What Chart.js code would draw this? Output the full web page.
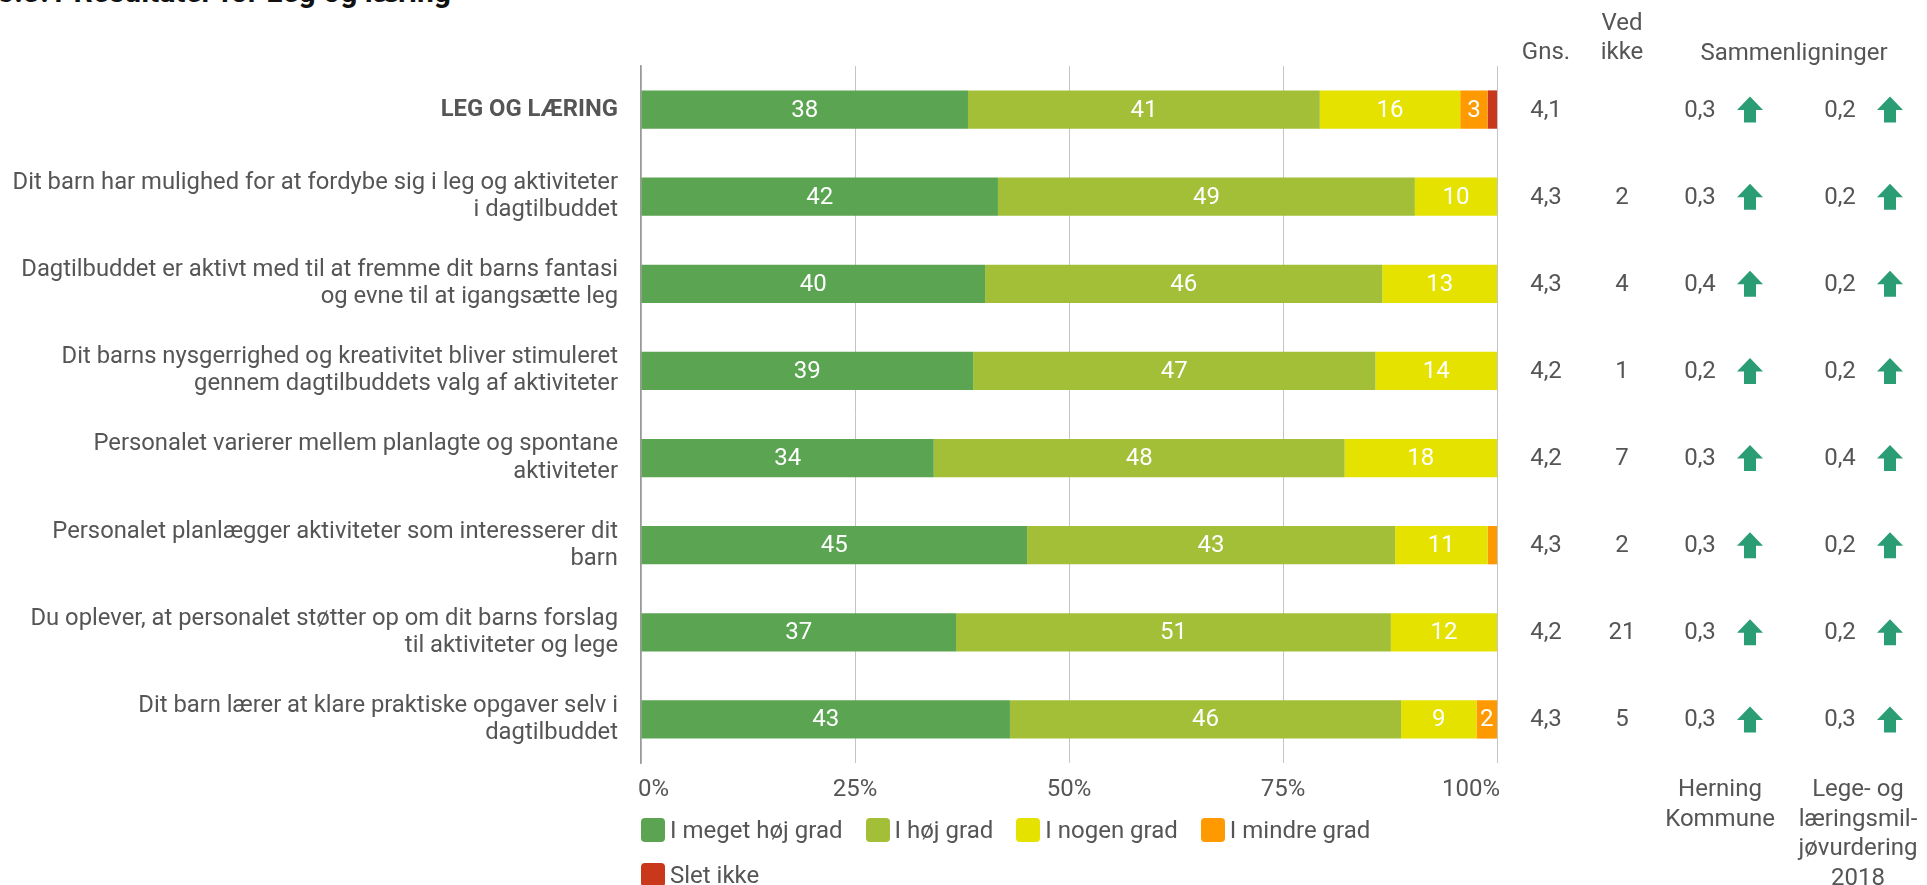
<!DOCTYPE html>
<html><head><meta charset="utf-8">
<script src="https://cdn.jsdelivr.net/npm/chart.js@4.4.1/dist/chart.umd.min.js"></script>
<style>
html,body{margin:0;padding:0;background:#fff;overflow:hidden;}
#wrap{position:relative;width:1927px;height:885px;overflow:hidden;background:#fff;}
#title{position:absolute;left:-3px;top:-23px;font:bold 30px Roboto, sans-serif;line-height:30px;color:#111;white-space:nowrap;}
#legend{position:absolute;left:641px;top:818px;width:800px;display:flex;flex-wrap:wrap;row-gap:21px;font:24px Roboto, sans-serif;color:#555;}
.li{display:flex;align-items:center;margin-right:23px;height:24px;white-space:nowrap;}
.bx{width:24px;height:24px;border-radius:4px;margin-right:5px;}
canvas{position:absolute;left:0;top:0;}
</style></head>
<body><div id="wrap"><div id="title">5.3.1 Resultater for Leg og læring</div><canvas id="c" width="1927" height="885"></canvas><div id="legend"></div></div>
<script>
// ---- data ----
const categories = [
  'LEG OG LÆRING',
  ['Dit barn har mulighed for at fordybe sig i leg og aktiviteter', 'i dagtilbuddet'],
  ['Dagtilbuddet er aktivt med til at fremme dit barns fantasi', 'og evne til at igangsætte leg'],
  ['Dit barns nysgerrighed og kreativitet bliver stimuleret', 'gennem dagtilbuddets valg af aktiviteter'],
  ['Personalet varierer mellem planlagte og spontane', 'aktiviteter'],
  ['Personalet planlægger aktiviteter som interesserer dit', 'barn'],
  ['Du oplever, at personalet støtter op om dit barns forslag', 'til aktiviteter og lege'],
  ['Dit barn lærer at klare praktiske opgaver selv i', 'dagtilbuddet']
];
const seriesNames = ['I meget høj grad', 'I høj grad', 'I nogen grad', 'I mindre grad', 'Slet ikke'];
const meget = [38.2, 41.7, 40.2, 38.8, 34.2, 45.1, 36.8, 43.1];
const hoej   = [41.1, 48.7, 46.4, 47.0, 48.0, 43.0, 50.8, 45.7];
const nogen  = [16.4,  9.6, 13.4, 14.2, 17.8, 10.8, 12.4,  8.8];
const mindre = [ 3.2,  0,    0,    0,    0,    1.1,  0,    2.4];
const slet   = [ 1.1,  0,    0,    0,    0,    0,    0,    0  ];
const gns     = [4.1, 4.3, 4.3, 4.2, 4.2, 4.3, 4.2, 4.3];
const vedIkke = [null, 2, 4, 1, 7, 2, 21, 5];
const herning = [0.3, 0.3, 0.4, 0.2, 0.3, 0.3, 0.3, 0.3];
const lms     = [0.2, 0.2, 0.2, 0.2, 0.4, 0.2, 0.2, 0.3];
const herningDir = ['up','up','up','up','up','up','up','up'];
const lmsDir     = ['up','up','up','up','up','up','up','up'];
const xTicks = [0, 25, 50, 75, 100];
const colHeaders = { gns: ['Gns.'], ved: ['Ved', 'ikke'], cmp: ['Sammenligninger'] };
const cmpFooters = { herning: ['Herning', 'Kommune'], lms: ['Lege- og', 'læringsmil-', 'jøvurdering', '2018'] };

const colors = ['#5ba552', '#a2bf37', '#e6e200', '#ff9900', '#c9381b'];
const arrowColor = '#2a9d74';
const textColor = '#555';

const fmt = v => v.toFixed(1).replace('.', ',');

function drawArrow(ctx, cx, cy, dir) {
  const h = 26, hw = 13, sw = 6, hh = 13.5;
  ctx.save();
  ctx.translate(cx, cy);
  if (dir === 'down') ctx.rotate(Math.PI);
  ctx.beginPath();
  ctx.moveTo(0, -h / 2);
  ctx.lineTo(hw, -h / 2 + hh);
  ctx.lineTo(sw, -h / 2 + hh);
  ctx.lineTo(sw, h / 2);
  ctx.lineTo(-sw, h / 2);
  ctx.lineTo(-sw, -h / 2 + hh);
  ctx.lineTo(-hw, -h / 2 + hh);
  ctx.closePath();
  ctx.fillStyle = arrowColor;
  ctx.fill();
  ctx.restore();
}

const overlay = {
  id: 'overlay',
  afterDatasetsDraw(chart) {
    const ctx = chart.ctx;
    const ys = chart.scales.y, xs = chart.scales.x;
    ctx.save();
    ctx.font = '24px Roboto';
    ctx.textBaseline = 'middle';
    // data labels
    chart.data.datasets.forEach((ds, di) => {
      const meta = chart.getDatasetMeta(di);
      meta.data.forEach((bar, i) => {
        const v = ds.data[i];
        if (Math.round(v) < 2) return;
        ctx.fillStyle = '#fff';
        ctx.textAlign = 'center';
        ctx.fillText(String(Math.round(v)), (bar.x + bar.base) / 2, bar.y + 1);
      });
    });
    // x tick labels
    ctx.fillStyle = textColor;
    const ty = chart.chartArea.bottom + 27;
    xTicks.forEach((v, i) => {
      const px = xs.getPixelForValue(v);
      if (i === 0) { ctx.textAlign = 'left'; ctx.fillText(v + '%', px - 3, ty); }
      else if (i === xTicks.length - 1) { ctx.textAlign = 'right'; ctx.fillText(v + '%', px + 3, ty); }
      else { ctx.textAlign = 'center'; ctx.fillText(v + '%', px, ty); }
    });
    // right-hand columns
    const cGns = 1546, cVed = 1622, cH = 1700, aH = 1750, cL = 1840, aL = 1890;
    ctx.textAlign = 'center';
    categories.forEach((c, i) => {
      const py = ys.getPixelForValue(i) + 1;
      ctx.fillStyle = textColor;
      ctx.fillText(fmt(gns[i]), cGns, py);
      if (vedIkke[i] !== null) ctx.fillText(String(vedIkke[i]), cVed, py);
      ctx.fillText(fmt(herning[i]), cH, py);
      ctx.fillText(fmt(lms[i]), cL, py);
      drawArrow(ctx, aH, py - 1, herningDir[i]);
      drawArrow(ctx, aL, py - 1, lmsDir[i]);
    });
    // headers
    ctx.fillStyle = textColor;
    ctx.fillText(colHeaders.gns[0], cGns, 53);
    ctx.fillText(colHeaders.ved[0], cVed, 24);
    ctx.fillText(colHeaders.ved[1], cVed, 53);
    ctx.fillText(colHeaders.cmp[0], 1794, 54);
    cmpFooters.herning.forEach((t, k) => ctx.fillText(t, 1720, 790 + k * 29.5));
    cmpFooters.lms.forEach((t, k) => ctx.fillText(t, 1858, 790 + k * 29.5));
    ctx.restore();
  }
};

const seriesData = [meget, hoej, nogen, mindre, slet];
new Chart(document.getElementById('c'), {
  type: 'bar',
  data: {
    labels: categories,
    datasets: seriesData.map((d, i) => ({
      label: seriesNames[i], data: d, backgroundColor: colors[i],
      borderWidth: 0, categoryPercentage: 0.44, barPercentage: 1
    }))
  },
  options: {
    indexAxis: 'y',
    responsive: false,
    devicePixelRatio: 1,
    animation: false,
    layout: { padding: { left: 0, right: 430, top: 66, bottom: 0 } },
    plugins: { legend: { display: false }, tooltip: { enabled: false } },
    scales: {
      x: {
        stacked: true, min: 0, max: 100,
        grid: { color: '#c4c4c4', drawTicks: false, lineWidth: 1 },
        border: { display: false },
        ticks: { display: false },
        afterBuildTicks(s) { s.ticks = xTicks.map(v => ({ value: v })); },
        afterFit(s) { s.height = 122; }
      },
      y: {
        stacked: true,
        grid: { display: false, drawTicks: false },
        border: { display: true, color: '#999', width: 1.5 },
        ticks: {
          padding: 23, color: textColor, autoSkip: false,
          font: (c) => ({ family: 'Roboto', size: 23.8, weight: c.index === 0 ? 'bold' : 'normal', lineHeight: 1.14 })
        },
        afterFit(s) { s.width = 641; }
      }
    }
  },
  plugins: [overlay]
});

// HTML legend built from series
const lg = document.getElementById('legend');
seriesNames.forEach((n, i) => {
  const it = document.createElement('div'); it.className = 'li';
  const b = document.createElement('span'); b.className = 'bx'; b.style.background = colors[i];
  const t = document.createElement('span'); t.textContent = n;
  it.appendChild(b); it.appendChild(t); lg.appendChild(it);
});
</script></body></html>
